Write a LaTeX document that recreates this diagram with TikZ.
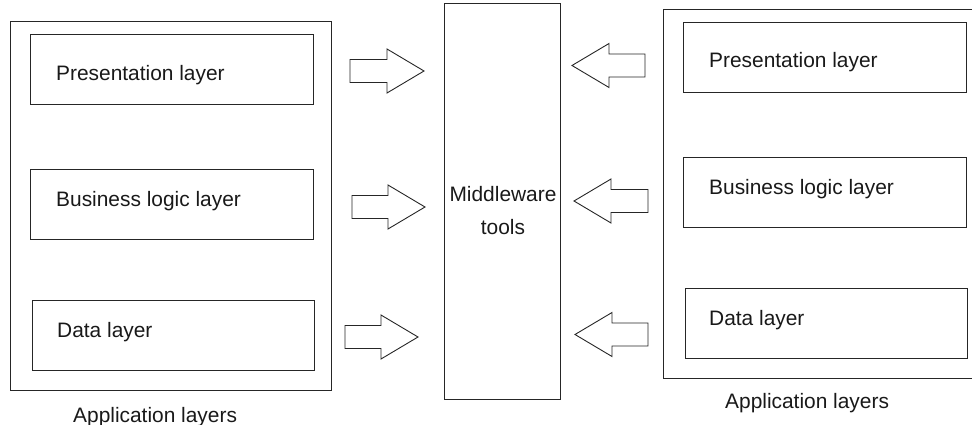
\documentclass[tikz,border=0pt]{standalone}
\usepackage{fontspec}
\setmainfont{Liberation Sans}
\begin{document}
\begin{tikzpicture}[x=1pt,y=-1pt,
    box/.style={draw=black!85, line width=1pt, inner sep=0pt},
    layertext/.style={anchor=base west, inner sep=0pt, font=\fontsize{20.9}{33}\selectfont, text=black!90},
    blockarrow/.style={draw=black!85, line width=0.9pt, line join=miter}]
    \useasboundingbox (0,0) rectangle (972,425);
    \clip (0,0) rectangle (972,425);

    % Left application
    \node[box, minimum width=321pt, minimum height=368pt] (appleft) at (170.5,206) {};
    \node[box, minimum width=283pt, minimum height=70pt] (presleft) at (171.5,70) {};
    \node[box, minimum width=283pt, minimum height=69pt] (busleft) at (171.5,204.5) {};
    \node[box, minimum width=282pt, minimum height=70pt] (dataleft) at (173,335) {};
    \node[layertext] (presleftt) at (56,81) {Presentation layer};
    \node[layertext] (buslefft) at (56,206.5) {Business logic layer};
    \node[layertext] (datalefft) at (57,337) {Data layer};
    \node[layertext] (appleftt) at (73,422) {Application layers};

    % Middleware
    \node[box, minimum width=116pt, minimum height=395pt] (mw) at (502,201.5) {};
    \node[layertext, anchor=north, align=center] (mwt) at (503,186.5) {Middleware\\tools};

    % Right application (runs off the right edge)
    \node[box, minimum width=327pt, minimum height=368pt] (appright) at (826.5,194) {};
    \node[box, minimum width=283pt, minimum height=70pt] (presright) at (824.5,58) {};
    \node[box, minimum width=283pt, minimum height=69pt] (busright) at (824.5,192.5) {};
    \node[box, minimum width=282pt, minimum height=70pt] (dataright) at (826,323) {};
    \node[layertext] (presrightt) at (709,68) {Presentation layer};
    \node[layertext] (busrightt) at (709,194.5) {Business logic layer};
    \node[layertext] (datarightt) at (709,325) {Data layer};
    \node[layertext] (apprightt) at (725,408.5) {Application layers};

    % Block arrows towards the middleware
    \foreach \tail/\tip/\ya in {350/424/71, 352/425/207, 345/418/337}{
        \draw[blockarrow] (\tail,\ya-11.5) -- (\tip-37,\ya-11.5) -- (\tip-37,\ya-22) -- (\tip,\ya)
            -- (\tip-37,\ya+22) -- (\tip-37,\ya+11.5) -- (\tail,\ya+11.5) -- cycle;
    }
    \foreach \tail/\tip/\ya in {645/572/65.5, 648/574/201, 648/575/334.5}{
        \draw[blockarrow] (\tail,\ya-11.5) -- (\tip+37,\ya-11.5) -- (\tip+37,\ya-22) -- (\tip,\ya)
            -- (\tip+37,\ya+22) -- (\tip+37,\ya+11.5) -- (\tail,\ya+11.5) -- cycle;
    }

\end{tikzpicture}
\end{document}
